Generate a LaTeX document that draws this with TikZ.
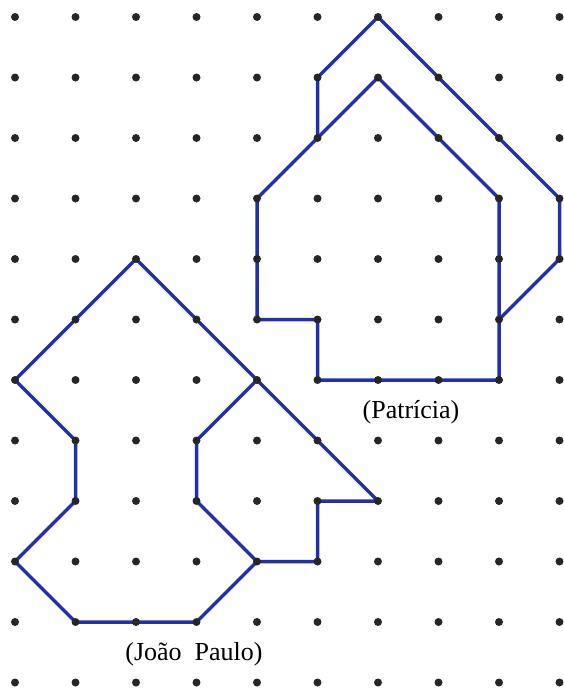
\documentclass[tikz,border=0pt]{standalone}
\usepackage{fontspec}
\setmainfont{Liberation Serif}
\definecolor{lineblue}{RGB}{35,48,170}
\begin{document}
\begin{tikzpicture}[x=1pt,y=-1pt,
  shapeline/.style={draw=lineblue, line width=3.5pt, line join=round},
  dotmark/.style={fill=black!85},
  lbl/.style={font=\fontsize{26}{30}\selectfont, inner sep=0pt}]
\useasboundingbox (0,0) rectangle (564,691);
\foreach \i in {0,...,9}{
  \foreach \j in {0,...,11}{
    \coordinate (g-\i-\j) at ({15+60.5*\i},{17+60.5*\j});
  }
}
% Patricia
\draw[shapeline] (g-4-3) -- (g-4-5) -- (g-5-5) -- (g-5-6) -- (g-8-6) -- (g-8-3) -- (g-6-1) -- cycle;
\draw[shapeline] (g-5-2) -- (g-5-1) -- (g-6-0) -- (g-9-3) -- (g-9-4) -- (g-8-5);
% Joao Paulo
\draw[shapeline] (g-2-4) -- (g-0-6) -- (g-1-7) -- (g-1-8) -- (g-0-9) -- (g-1-10) -- (g-3-10) -- (g-4-9) -- (g-5-9) -- (g-5-8) -- (g-6-8) -- cycle;
\draw[shapeline] (g-4-6) -- (g-3-7) -- (g-3-8) -- (g-4-9);
% dots
\foreach \i in {0,...,9}{
  \foreach \j in {0,...,11}{
    \fill[dotmark] (g-\i-\j) circle (4);
  }
}
\node[lbl] (patricia) at (411,412) {(Patrícia)};
\node[lbl] (joao) at (194,654) {(João\ \ Paulo)};
\end{tikzpicture}
\end{document}
